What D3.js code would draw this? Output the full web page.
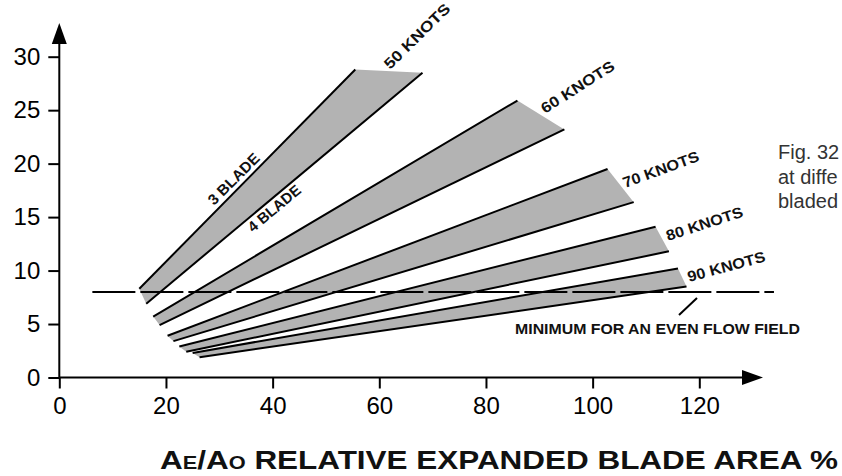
<!DOCTYPE html>
<html>
<head>
<meta charset="utf-8">
<script src="https://cdn.jsdelivr.net/npm/d3@7"></script>
<style>
    body { margin: 0; background: #fff; }
    svg { display: block; font-family: "Liberation Sans", Arial, Helvetica, sans-serif; }
</style>
</head>
<body>
<div id="graphique"></div>
<script>
// vitesses (une bande par vitesse)
const knots = ["50 KNOTS", "60 KNOTS", "70 KNOTS", "80 KNOTS", "90 KNOTS"];
// ligne 3 pales : [x début, y début, x fin, y fin] (Ae/Ao %, valeur)
const threeBlade = [
    [15.0, 8.3, 55.5, 28.8],
    [17.6, 5.7, 85.9, 25.9],
    [20.3, 3.9, 102.8, 19.5],
    [22.5, 2.9, 111.8, 14.1],
    [25.0, 2.3, 116.0, 10.2]
];
// ligne 4 pales
const fourBlade = [
    [16.3, 6.9, 68.1, 28.5],
    [18.8, 4.9, 94.7, 23.2],
    [21.4, 3.4, 107.7, 16.4],
    [23.8, 2.4, 114.3, 11.8],
    [26.3, 1.9, 117.6, 8.5]
];
const xTicks = [0, 20, 40, 60, 80, 100, 120];
const yTicks = [0, 5, 10, 15, 20, 25, 30];
const minFlow = 8;           // minimum pour un écoulement homogène
const minFlowX = [6.2, 134]; // étendue de la ligne pointillée

function AffichageGraph() {
    const width = 842, height = 476;

    const svg = d3.select("#graphique").append("svg")
        .attr("width", width)
        .attr("height", height);

    const xScale = d3.scaleLinear().domain([0, 120]).range([59.3, 699.3]);
    const yScale = d3.scaleLinear().domain([0, 30]).range([377.5, 56.7]);

    // bandes grises
    svg.selectAll(".band")
        .data(knots)
        .enter()
        .append("path")
        .attr("class", "band")
        .attr("d", (d, i) => {
            const a = threeBlade[i], b = fourBlade[i];
            return "M" + xScale(a[0]) + "," + yScale(a[1]) +
                "L" + xScale(a[2]) + "," + yScale(a[3]) +
                "L" + xScale(b[2]) + "," + yScale(b[3]) +
                "L" + xScale(b[0]) + "," + yScale(b[1]) + "Z";
        })
        .style("fill", "#b3b3b3");

    // traits noirs 3 et 4 pales
    const lines = threeBlade.concat(fourBlade);
    svg.selectAll(".blade-line")
        .data(lines)
        .enter()
        .append("line")
        .attr("class", "blade-line")
        .attr("x1", d => xScale(d[0]))
        .attr("y1", d => yScale(d[1]))
        .attr("x2", d => xScale(d[2]))
        .attr("y2", d => yScale(d[3]))
        .style("stroke", "#000")
        .style("stroke-width", 2);

    // ligne pointillée
    svg.append("line")
        .attr("x1", xScale(minFlowX[0]))
        .attr("x2", xScale(minFlowX[1]))
        .attr("y1", yScale(minFlow))
        .attr("y2", yScale(minFlow))
        .style("stroke", "#000")
        .style("stroke-width", 2)
        .style("stroke-dasharray", "43,5");

    // axe x
    const xAxis = svg.append("g")
        .attr("transform", `translate(0,${yScale(0)})`)
        .call(d3.axisBottom(xScale).tickValues(xTicks).tickSize(11).tickPadding(8));
    xAxis.select(".domain").remove();
    xAxis.selectAll("line").style("stroke", "#000").style("stroke-width", 2);
    xAxis.selectAll("text")
        .style("fill", "#000")
        .style("font-size", "24px")
        .style("font-family", "'Liberation Sans', Arial, sans-serif");

    // axe y
    const yAxis = svg.append("g")
        .attr("transform", `translate(${xScale(0)},0)`)
        .call(d3.axisLeft(yScale).tickValues(yTicks).tickSize(11).tickPadding(8));
    yAxis.select(".domain").remove();
    yAxis.selectAll("line").style("stroke", "#000").style("stroke-width", 2);
    yAxis.selectAll("text")
        .style("fill", "#000")
        .style("font-size", "24px")
        .style("font-family", "'Liberation Sans', Arial, sans-serif");

    // traits des axes + flèches
    svg.append("line")
        .attr("x1", xScale(0)).attr("y1", yScale(0))
        .attr("x2", 750).attr("y2", yScale(0))
        .style("stroke", "#000").style("stroke-width", 2);
    svg.append("path")
        .attr("d", `M763,${yScale(0)}L742,${yScale(0) - 7.5}L742,${yScale(0) + 7.5}Z`)
        .style("fill", "#000");
    svg.append("line")
        .attr("x1", xScale(0)).attr("y1", yScale(0))
        .attr("x2", xScale(0)).attr("y2", 36)
        .style("stroke", "#000").style("stroke-width", 2);
    svg.append("path")
        .attr("d", `M${xScale(0)},23L${xScale(0) - 7.5},44L${xScale(0) + 7.5},44Z`)
        .style("fill", "#000");

    // étiquettes des vitesses
    const knotLabels = [
        { x: 390, y: 70, angle: -44.5, len: 86 },
        { x: 545, y: 114, angle: -32.5, len: 84 },
        { x: 625, y: 188, angle: -20, len: 80 },
        { x: 668, y: 241, angle: -18, len: 80 },
        { x: 689, y: 282, angle: -15, len: 80 }
    ];
    svg.selectAll(".knot-text")
        .data(knots)
        .enter()
        .append("text")
        .attr("class", "knot-text")
        .attr("transform", (d, i) => `translate(${knotLabels[i].x},${knotLabels[i].y}) rotate(${knotLabels[i].angle})`)
        .attr("textLength", (d, i) => knotLabels[i].len)
        .attr("lengthAdjust", "spacingAndGlyphs")
        .style("font-size", "15px")
        .style("font-weight", "bold")
        .style("fill", "#111")
        .text(d => d);

    // 3 BLADE / 4 BLADE
    svg.append("text")
        .attr("transform", "translate(214,206) rotate(-45)")
        .attr("textLength", 66)
        .attr("lengthAdjust", "spacingAndGlyphs")
        .style("font-size", "15px")
        .style("font-weight", "bold")
        .style("fill", "#111")
        .text("3 BLADE");
    svg.append("text")
        .attr("transform", "translate(253,233) rotate(-40)")
        .attr("textLength", 64)
        .attr("lengthAdjust", "spacingAndGlyphs")
        .style("font-size", "15px")
        .style("font-weight", "bold")
        .style("fill", "#111")
        .text("4 BLADE");

    // annotation minimum
    svg.append("line")
        .attr("x1", 697).attr("y1", 298)
        .attr("x2", 679).attr("y2", 315)
        .style("stroke", "#000").style("stroke-width", 2);
    svg.append("text")
        .attr("x", 515).attr("y", 334)
        .attr("textLength", 285)
        .attr("lengthAdjust", "spacingAndGlyphs")
        .style("font-size", "15px")
        .style("font-weight", "bold")
        .style("fill", "#111")
        .text("MINIMUM FOR AN EVEN FLOW FIELD");

    // titre axe x
    const title = svg.append("text")
        .attr("x", 160).attr("y", 469)
        .attr("textLength", 678)
        .attr("lengthAdjust", "spacingAndGlyphs")
        .style("font-size", "26px")
        .style("font-weight", "bold")
        .style("fill", "#111");
    title.append("tspan").text("A");
    title.append("tspan").style("font-size", "18px").text("E");
    title.append("tspan").text("/A");
    title.append("tspan").style("font-size", "18px").text("O");
    title.append("tspan").text(" RELATIVE EXPANDED BLADE AREA %");

    // légende coupée à droite
    const caption = ["Fig. 32", "at diffe", "bladed"];
    svg.selectAll(".caption")
        .data(caption)
        .enter()
        .append("text")
        .attr("class", "caption")
        .attr("x", 778)
        .attr("y", (d, i) => 159 + i * 24.5)
        .style("font-size", "20px")
        .style("fill", "#333")
        .text(d => d);
}

AffichageGraph();
</script>
</body>
</html>
